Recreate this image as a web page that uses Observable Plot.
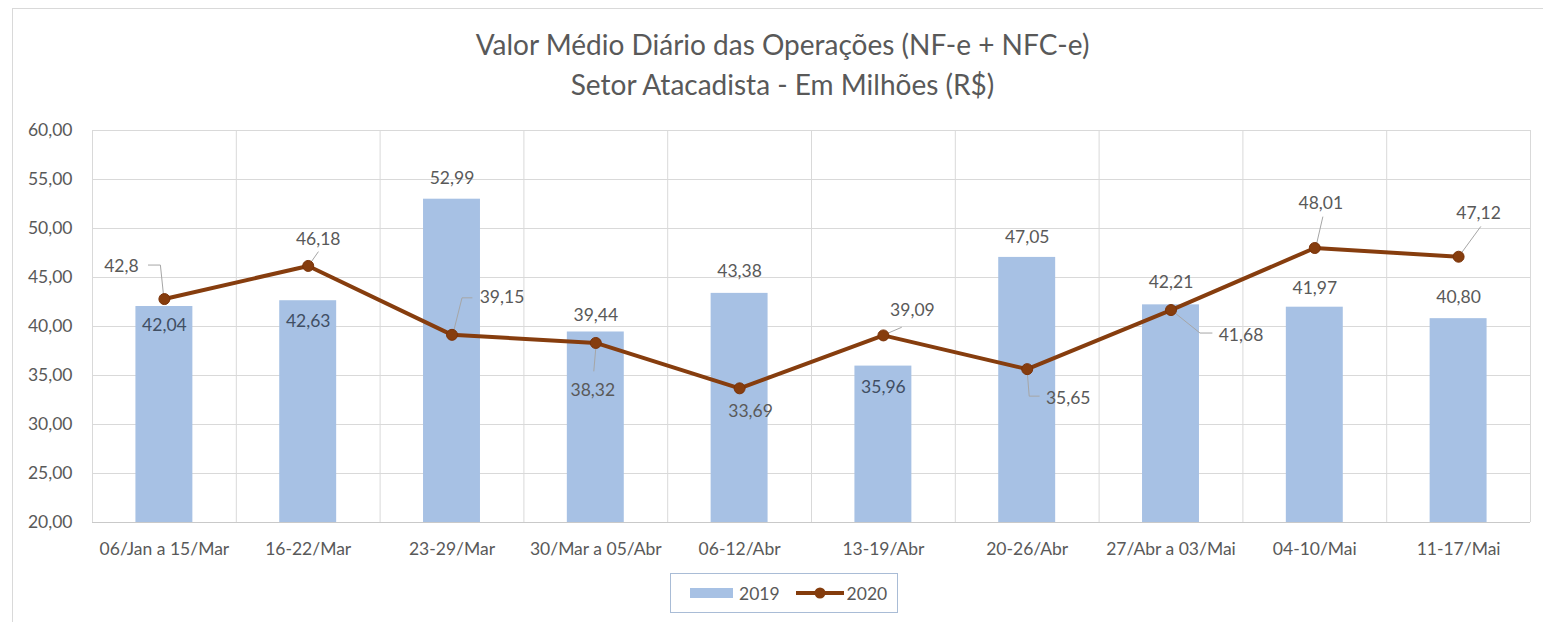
<!DOCTYPE html>
<html>
<head>
<meta charset="utf-8">
<script src="https://cdn.jsdelivr.net/npm/d3@7"></script>
<script src="https://cdn.jsdelivr.net/npm/@observablehq/plot@0.6"></script>
<style>
  html, body { margin: 0; padding: 0; background: #fff; }
  body { width: 1543px; height: 622px; overflow: hidden; position: relative; font-family: Lato, sans-serif; color: #595959; }
  #frame { position: absolute; left: 12px; top: 8px; width: 1540px; height: 700px; border: 1px solid #d9d9d9; box-sizing: border-box; }
  #title { position: absolute; left: 0; top: 24px; width: 1565px; text-align: center; font-size: 28px; line-height: 40px; color: #595959; }
  #chart { position: absolute; left: 0; top: 110px; }
  #legend { position: absolute; left: 670px; top: 573px; width: 228px; height: 40px; box-sizing: border-box; border: 1px solid #a9bcd6; display: flex; align-items: center; font-size: 17.5px; color: #595959; }
  #legend .sw { display: inline-block; width: 43px; height: 10px; background: #a7c1e4; margin-left: 19px; margin-right: 6px; }
  #legend svg { margin-left: 16px; margin-right: 3px; }
</style>
</head>
<body>
<div id="frame"></div>
<div id="title">Valor Médio Diário das Operações (NF-e + NFC-e)<br>Setor Atacadista - Em Milhões (R$)</div>
<div id="chart"></div>
<div id="legend"><span class="sw"></span><span>2019</span><svg width="48" height="14"><line x1="0" y1="7" x2="48" y2="7" stroke="#843c0c" stroke-width="4"/><circle cx="24" cy="7" r="5.5" fill="#843c0c"/></svg><span>2020</span></div>
<script>
// ---- data ----
const categories = ["06/Jan a 15/Mar", "16-22/Mar", "23-29/Mar", "30/Mar a 05/Abr", "06-12/Abr", "13-19/Abr", "20-26/Abr", "27/Abr a 03/Mai", "04-10/Mai", "11-17/Mai"];
const values2019 = [42.04, 42.63, 52.99, 39.44, 43.38, 35.96, 47.05, 42.21, 41.97, 40.80];
const values2020 = [42.8, 46.18, 39.15, 38.32, 33.69, 39.09, 35.65, 41.68, 48.01, 47.12];
const yTicks = [20, 25, 30, 35, 40, 45, 50, 55, 60];

// ---- label layout (pixel offsets) ----
const label2019Dy = [19, 21, -21, -17, -22, 21, -20, -22, -19, -21];
const label2020Offset = [[-43, -33], [10, -27], [50, -37], [-3, 47], [11, 23], [29, -25], [41, 29], [70, 25], [6, -45], [20, -43]];
const leaderPaths = [
  [[-1, -5], [-4, -34], [-16, -34]],
  [[3, -4], [10, -14]],
  [[2, -5], [10, -37], [20, -37]],
  [[0, 5], [-2, 28]],
  [],
  [[4, -2], [18, -8]],
  [[0, 2], [2, 27], [12, 27]],
  [[4, 3], [29, 23], [41, 23]],
  [[2, -5], [8, -31]],
  [[3, -4], [22, -30]]
];

// ---- geometry ----
const W = 1543, H = 460, ML = 92, MR = 13, MT = 20, MB = 48;
const yDomain = [20, 60];
const n = categories.length;
const pxX = (W - ML - MR) / n;
const pxY = (H - MT - MB) / (yDomain[1] - yDomain[0]);
const barW = 0.396;

const rows = categories.map((c, i) => ({i, c, v19: values2019[i], v20: values2020[i]}));
const cx = d => d.i + 0.5;
const fmt2 = v => v.toFixed(2).replace(".", ",");
const fmtRaw = v => String(v).replace(".", ",");

const leaders = [];
rows.forEach(d => {
  const p = leaderPaths[d.i];
  p.forEach(([ox, oy]) => leaders.push({k: d.i, x: cx(d) + ox / pxX, y: d.v20 - oy / pxY}));
});

const plot = Plot.plot({
  width: W, height: H,
  marginLeft: ML, marginRight: MR, marginTop: MT, marginBottom: MB,
  style: {fontFamily: "Lato, sans-serif", fontSize: "17.5px", color: "#595959", background: "transparent"},
  x: {type: "linear", domain: [0, n]},
  y: {domain: yDomain},
  marks: [
    Plot.ruleY(yTicks, {stroke: "#d9d9d9", strokeWidth: 1}),
    Plot.ruleX(d3.range(n + 1), {stroke: "#d9d9d9", strokeWidth: 1}),
    Plot.ruleY([yDomain[0]], {stroke: "#c9c9c9", strokeWidth: 1}),
    Plot.rectY(rows, {x1: d => cx(d) - barW / 2, x2: d => cx(d) + barW / 2, y1: yDomain[0], y2: "v19", fill: "#a7c1e4"}),
    Plot.line(leaders, {x: "x", y: "y", z: "k", stroke: "#a6a6a6", strokeWidth: 1}),
    Plot.line(rows, {x: cx, y: "v20", stroke: "#863d0e", strokeWidth: 4, strokeLinejoin: "round"}),
    Plot.dot(rows, {x: cx, y: "v20", r: 5.5, fill: "#863d0e", stroke: "#7a3208", strokeWidth: 1}),
    Plot.text(rows, {x: cx, y: d => d.v19 - label2019Dy[d.i] / pxY, text: d => fmt2(d.v19), fill: d => label2019Dy[d.i] > 0 ? "#404e63" : "#595959", lineAnchor: "middle"}),
    Plot.text(rows, {x: d => cx(d) + label2020Offset[d.i][0] / pxX, y: d => d.v20 - label2020Offset[d.i][1] / pxY, text: d => fmtRaw(d.v20), fill: "#595959", lineAnchor: "middle"}),
    Plot.axisY({ticks: yTicks, tickFormat: fmt2, tickSize: 0, tickPadding: 20, label: null}),
    Plot.axisX({ticks: rows.map(cx), tickFormat: (d, i) => categories[i], tickSize: 0, tickPadding: 20, label: null})
  ]
});
document.getElementById("chart").appendChild(plot);
</script>
</body>
</html>
